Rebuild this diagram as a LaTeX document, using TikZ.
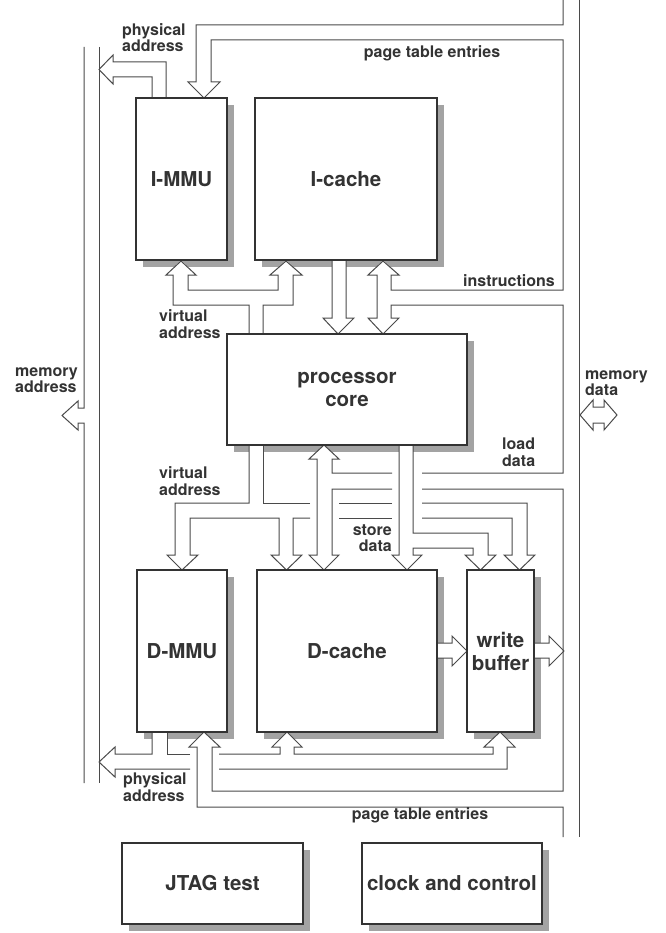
\documentclass[tikz,border=0pt]{standalone}
\usepackage{fontspec}
\setmainfont{TeX Gyre Heros}
\definecolor{txtc}{HTML}{333333}
\definecolor{boxc}{HTML}{333333}
\definecolor{busc}{HTML}{4A4A4A}
\definecolor{shadowc}{HTML}{A3A3A3}
\newcommand\diabig{\fontsize{20.5}{23}\selectfont\bfseries}
\newcommand\diasmall{\fontsize{16}{16.5}\selectfont\bfseries}
\newcommand\blk[6]{%
  \fill[shadowc] (#2+7,#3+7) rectangle (#4+7,#5+7);
  \node[box, minimum width={#4-#2}, minimum height={#5-#3}] (#1) at ({(#2+#4)/2},{(#3+#5)/2}) {#6};
}
\begin{document}
\begin{tikzpicture}[x=1pt,y=-1pt,
  box/.style={draw=boxc, line width=1.7pt, fill=white, inner sep=0pt, align=center, text=txtc, font=\diabig},
  bus/.style={draw=busc, line width=1pt, line join=miter},
  lbl/.style={inner sep=0pt, text=txtc, font=\diasmall}]
\useasboundingbox (0,0) rectangle (665,933);

% shadows
\fill[shadowc] (143,105) rectangle (234,267);
\fill[shadowc] (262,105) rectangle (444,267);
\fill[shadowc] (234,341) rectangle (474,452);
\fill[shadowc] (144,577) rectangle (234,739);
\fill[shadowc] (264,577) rectangle (444,739);
\fill[shadowc] (474,577) rectangle (541,739);
\fill[shadowc] (129,850) rectangle (310,931);
\fill[shadowc] (369,850) rectangle (549,931);

% white under arrows crossing shadows
\fill[white] (166,275)--(181,260)--(196,275)--cycle;
\fill[white] (270,275)--(286,260)--(302,275)--cycle;
\fill[white] (368,275)--(383,260)--(399,275)--cycle;
\fill[white] (332,260) rectangle (346,276);
\fill[white] (249,445) rectangle (263,460);
\fill[white] (309,459)--(324,445)--(339,459)--cycle;
\fill[white] (399,445) rectangle (413,460);
\fill[white] (152,732) rectangle (167,746);
\fill[white] (189,747)--(204,732)--(220,747)--cycle;
\fill[white] (272,747)--(287,732)--(302,747)--cycle;
\fill[white] (484,747)--(500,732)--(515,747)--cycle;
\fill[white] (437,643) rectangle (452,658);
\fill[white] (534,643) rectangle (549,658);

% left memory address bus
\draw[bus] (84,47)--(84,408)--(78,408)--(78,401)--(62,415.5)--(78,430)--(78,423)--(84,423)--(84,783);
\draw[bus] (99,47)--(99,783);

% I-MMU physical address
\draw[bus] (166,98)--(166,62)--(113,62)--(113,55)--(99,69.5)--(113,84)--(113,77)--(152,77)--(152,98);

% right memory data bus (inner line with page table / instructions / load data)
\draw[bus] (563,0)--(563,25)--(196,25)--(196,82)--(188,82)--(204,98)--(220,82)--(211,82)--(211,40)--(563,40)
  --(563,290)--(391,290)--(391,275)--(399,275)--(383,261)--(368,275)--(377,275)--(377,318)--(368,318)
  --(383,334)--(399,318)--(391,318)--(391,305)--(563,305)--(563,473)--(422,473);
\draw[bus] (392,473)--(332,473)--(332,459)--(339,459)--(324,445)--(309,459)--(317,459)--(317,555)
  --(309,555)--(324,570)--(339,555)--(332,555)--(332,489)--(392,489);
\draw[bus] (422,489)--(563,489)--(563,791)--(212,791)--(212,747)--(220,747)--(204,732)--(189,747)
  --(197,747)--(197,807)--(563,807)--(563,837);
\draw[bus] (579,0)--(579,837);

% memory data double arrow
\draw[bus] (593,407)--(593,400)--(580,415)--(593,430)--(593,423)--(604,423)--(604,430)--(617,415)
  --(604,400)--(604,407)--cycle;

% virtual address (top)
\draw[bus] (249,334)--(249,305)--(173,305)--(173,275)--(166,275)--(181,261)--(196,275)--(188,275)
  --(188,290)--(278,290)--(278,275)--(270,275)--(286,261)--(302,275)--(293,275)--(293,305)
  --(263,305)--(263,334);

% I-cache to core
\draw[bus] (332,261)--(332,318)--(323,318)--(338,334)--(354,318)--(346,318)--(346,261);

% store data
\draw[bus] (399,445)--(399,555)--(392,555)--(407,570)--(422,555)--(413,555)--(413,548)--(473,548)
  --(473,555)--(465,555)--(480.5,570)--(496,555)--(488,555)--(488,533)--(413,533)--(413,445);

% virtual address (bottom)
\draw[bus] (249,445)--(249,503)--(175,503)--(175,555)--(167,555)--(182,570)--(198,555)--(190,555)
  --(190,518)--(279,518)--(279,555)--(271,555)--(286.5,570)--(302,555)--(293,555)--(293,518)--(310,518);
\draw[bus] (339,518)--(392,518);
\draw[bus] (422,518)--(512,518)--(512,555)--(504,555)--(519.5,570)--(535,555)--(527,555)--(527,503)--(422,503);
\draw[bus] (392,503)--(339,503);
\draw[bus] (310,503)--(263,503)--(263,445);

% physical address (bottom)
\draw[bus] (152,732)--(152,754)--(115,754)--(115,747)--(99,762)--(115,777)--(115,769)--(190,769);
\draw[bus] (219,769)--(507,769)--(507,747)--(515,747)--(500,732)--(484,747)--(493,747)--(493,754)
  --(294,754)--(294,747)--(302,747)--(287,732)--(272,747)--(280,747)--(280,754)--(219,754);
\draw[bus] (190,754)--(167,754)--(167,732);

% D-cache -> write buffer, write buffer -> memory
\draw[bus] (437,643)--(452,643)--(452,636)--(467,651)--(452,666)--(452,658)--(437,658);
\draw[bus] (534,643)--(549,643)--(549,636)--(564,651)--(549,666)--(549,658)--(534,658);

% boxes
\node[box, minimum width=91, minimum height=162] (immu) at (181.5,179) {I-MMU};
\node[box, minimum width=182, minimum height=162] (icache) at (346,179) {I-cache};
\node[box, minimum width=240, minimum height=111] (core) at (347,389.5) {processor\\core};
\node[box, minimum width=90, minimum height=162] (dmmu) at (182,651) {D-MMU};
\node[box, minimum width=180, minimum height=162] (dcache) at (347,651) {D-cache};
\node[box, minimum width=67, minimum height=162] (wbuf) at (500.5,651) {write\\buffer};
\node[box, minimum width=181, minimum height=81] (jtag) at (212.5,883.5) {JTAG test};
\node[box, minimum width=180, minimum height=81] (clk) at (452,883.5) {clock and control};

% labels
\node[lbl, anchor=west, align=left] (lpa1) at (122,37.5) {physical\\address};
\node[lbl] (lpte1) at (432,53) {page table entries};
\node[lbl, anchor=west, align=left] (lva1) at (159,324) {virtual\\address};
\node[lbl, anchor=east] (lins) at (555,281) {instructions};
\node[lbl, anchor=west, align=left] (lma) at (15,380) {memory\\address};
\node[lbl, anchor=west, align=left] (lmd) at (585,383) {memory\\data};
\node[lbl, anchor=west, align=left] (lld) at (502,452) {load\\data};
\node[lbl, anchor=west, align=left] (lva2) at (159,481) {virtual\\address};
\node[lbl, anchor=east, align=right] (lsd) at (392,538) {store\\data};
\node[lbl, anchor=west, align=left] (lpa2) at (123,787) {physical\\address};
\node[lbl] (lpte2) at (420,815) {page table entries};
\end{tikzpicture}
\end{document}
